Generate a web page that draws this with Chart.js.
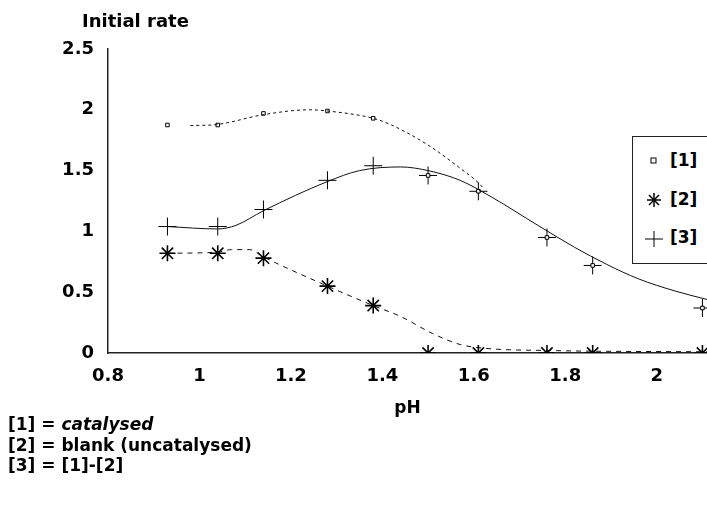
<!DOCTYPE html>
<html>
<head>
<meta charset="utf-8">
<script src="https://cdn.jsdelivr.net/npm/chart.js@4/dist/chart.umd.min.js"></script>
<style>
  html, body { margin: 0; padding: 0; background: #fff; }
  body { width: 707px; height: 509px; position: relative; overflow: hidden;
         font-family: "DejaVu Sans", sans-serif; font-weight: bold; color: #000; }
  #wrap { position: absolute; left: 0; top: 0; width: 707px; height: 509px; }
  .txt { position: absolute; white-space: nowrap; }
  #ytitle { left: 82px; top: 10px; font-size: 18px; }
  #legend { position: absolute; left: 632px; top: 136px; width: 90px; height: 126px;
            border: 1px solid #222; background: #fff; }
  .leg { position: absolute; left: 10px; height: 20px; }
  .leg svg { position: absolute; left: 0; top: 2px; }
  .leg span { position: absolute; left: 27px; top: -1px; font-size: 17px; }
  #notes { left: 8px; top: 414px; line-height: 20.5px; font-size: 17px; }
</style>
</head>
<body>
<div id="wrap"><canvas id="c" width="707" height="509"></canvas></div>
<div class="txt" id="ytitle">Initial rate</div>
<div id="legend">
  <div class="leg" style="top:14px">
    <svg width="22" height="16"><rect x="8" y="5" width="5" height="5" fill="#fff" stroke="#000" stroke-width="1"/></svg>
    <span>[1]</span>
  </div>
  <div class="leg" style="top:53px">
    <svg width="22" height="16"><g stroke="#000" stroke-width="1.5"><line x1="11" y1="1" x2="11" y2="15"/><line x1="4" y1="8" x2="18" y2="8"/><line x1="6" y1="3" x2="16" y2="13"/><line x1="16" y1="3" x2="6" y2="13"/></g></svg>
    <span>[2]</span>
  </div>
  <div class="leg" style="top:91px">
    <svg width="22" height="18"><g stroke="#000" stroke-width="1"><line x1="11" y1="1" x2="11" y2="17"/><line x1="2" y1="9" x2="20" y2="9"/></g></svg>
    <span>[3]</span>
  </div>
</div>
<div class="txt" id="notes">
  [1] = <i>catalysed</i><br>
  [2] = blank (uncatalysed)<br>
  [3] = [1]-[2]
</div>
<script>
// measured points
const pH = [0.93, 1.04, 1.14, 1.28, 1.38, 1.50, 1.61, 1.76, 1.86, 2.10];
const catalysed = [1.875, 1.875, 1.97, 1.99, 1.93, 1.46, 1.33, 0.95, 0.72, 0.37];
const blank = [0.82, 0.82, 0.78, 0.55, 0.39, 0.0, 0.0, 0.0, 0.0, 0.0];
const difference = [1.04, 1.04, 1.18, 1.42, 1.54, 1.46, 1.33, 0.95, 0.72, 0.37];

// fitted curves
const fit1X = [0.98, 1.04, 1.14, 1.24, 1.28, 1.38, 1.42, 1.50, 1.57, 1.61, 1.62];
const fit1Y = [1.87, 1.88, 1.96, 2.00, 1.99, 1.93, 1.875, 1.71, 1.52, 1.40, 1.36];
const fit2X = [0.93, 1.04, 1.07, 1.11, 1.14, 1.28, 1.38, 1.44, 1.51, 1.57, 1.62, 1.77, 2.11];
const fit2Y = [0.82, 0.83, 0.85, 0.85, 0.79, 0.55, 0.39, 0.30, 0.16, 0.07, 0.04, 0.02, 0.01];
const fit3X = [0.93, 1.04, 1.08, 1.14, 1.28, 1.35, 1.44, 1.50, 1.57, 1.64, 1.74, 1.82, 1.89, 1.96, 2.04, 2.11];
const fit3Y = [1.04, 1.02, 1.05, 1.17, 1.41, 1.50, 1.53, 1.50, 1.42, 1.28, 1.05, 0.87, 0.73, 0.61, 0.51, 0.44];

const xTicks = [0.8, 1, 1.2, 1.4, 1.6, 1.8, 2];
const yTicks = [0, 0.5, 1, 1.5, 2, 2.5];

const pts = (xs, ys) => xs.map((x, i) => ({ x, y: ys[i] }));
const tickFont = { family: "DejaVu Sans, sans-serif", size: 18, weight: "bold" };

function curve(data, dash) {
  return {
    data, showLine: true, pointRadius: 0, borderColor: "#111", borderWidth: 1,
    borderDash: dash, cubicInterpolationMode: "monotone", fill: false,
  };
}
function marks(data, style, radius, width) {
  return {
    data, showLine: false, pointStyle: style, pointRadius: radius,
    pointBorderColor: "#000", pointBackgroundColor: "#fff", pointBorderWidth: width,
  };
}

new Chart(document.getElementById("c").getContext("2d"), {
  type: "scatter",
  data: {
    datasets: [
      curve(pts(fit1X, fit1Y), [3, 3]),
      curve(pts(fit2X, fit2Y), [5, 5]),
      curve(pts(fit3X, fit3Y), []),
      marks(pts(pH, catalysed), "rect", 2.5, 1),
      marks(pts(pH, blank), "star", 8, 1.6),
      marks(pts(pH, difference), "cross", 9, 1),
    ],
  },
  options: {
    responsive: false,
    animation: false,
    layout: { autoPadding: false, padding: { left: 0, right: 0, top: 49, bottom: 86 } },
    plugins: { legend: { display: false }, tooltip: { enabled: false } },
    scales: {
      x: {
        type: "linear", min: 0.8, max: 2.11,
        afterBuildTicks: (s) => { s.ticks = xTicks.map(v => ({ value: v })); },
        afterFit: (s) => { s.height = 70; },
        grid: { display: false },
        border: { display: true, color: "#222", width: 1.5 },
        ticks: { color: "#000", font: tickFont, padding: 5, maxRotation: 0, autoSkip: false,
                 callback: (v) => String(v) },
        title: { display: true, text: "pH", color: "#000",
                 font: { family: "DejaVu Sans, sans-serif", size: 17, weight: "bold" },
                 padding: { top: 0, bottom: 4 } },
      },
      y: {
        type: "linear", min: 0, max: 2.5,
        afterBuildTicks: (s) => { s.ticks = yTicks.map(v => ({ value: v })); },
        afterFit: (s) => { s.width = 108; },
        grid: { display: false },
        border: { display: true, color: "#222", width: 1.5 },
        ticks: { color: "#000", font: tickFont, padding: 6, callback: (v) => String(v) },
      },
    },
  },
});
</script>
</body>
</html>
